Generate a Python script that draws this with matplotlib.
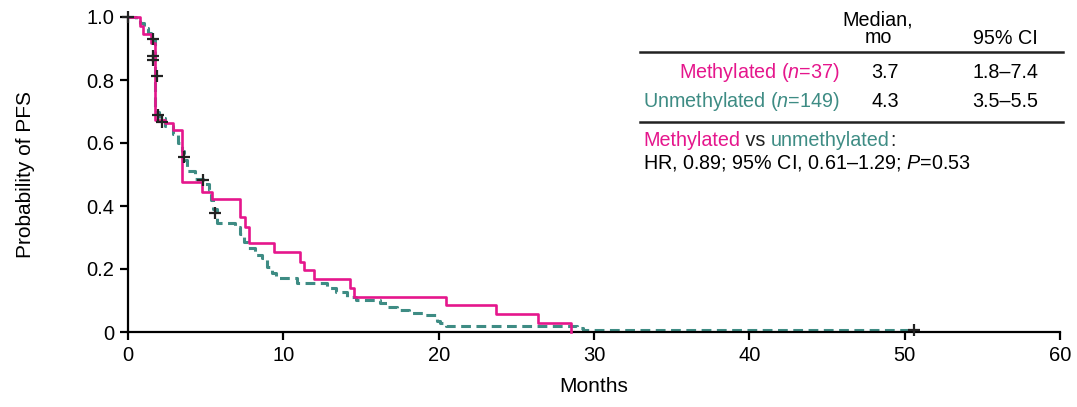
import matplotlib
matplotlib.use("Agg")
import matplotlib.pyplot as plt

# =====================================================
# DATA
# =====================================================

meth_t = [0, 0.77, 0.99, 1.45, 1.74, 2.4, 2.92, 3.46, 4.74, 5.39, 7.21, 7.5, 7.8,
          9.4, 11.08, 11.33, 11.98, 14.3, 14.55, 20.45, 23.7, 26.4, 28.5]
meth_s = [1.0, 0.973, 0.946, 0.919, 0.673, 0.662, 0.641, 0.477, 0.445, 0.421, 0.366,
          0.334, 0.282, 0.255, 0.223, 0.197, 0.167, 0.139, 0.112, 0.085, 0.057, 0.03, 0.0]

unmeth_t = [0, 0.5, 0.8, 1.0, 1.3, 1.5, 1.72, 2.0, 2.4, 2.9,
            3.2, 3.45, 3.6, 3.78, 4.3, 4.85, 5.2, 5.35, 5.5, 5.7,
            6.9, 7.2, 7.45, 7.75, 8.2, 8.6, 8.95, 9.25, 9.5, 10.9,
            12.8, 13.4, 14.1, 14.7, 16.2, 16.65, 17.3, 18.1, 19.05, 19.9,
            20.1, 20.5, 28.9, 29.3, 50.6]
unmeth_s = [1.0, 0.99, 0.98, 0.965, 0.95, 0.93, 0.70, 0.68, 0.655, 0.63,
            0.60, 0.575, 0.545, 0.51, 0.487, 0.47, 0.45, 0.42, 0.39, 0.345,
            0.334, 0.31, 0.287, 0.266, 0.244, 0.234, 0.207, 0.186, 0.17, 0.154,
            0.139, 0.128, 0.112, 0.102, 0.093, 0.08, 0.07, 0.059, 0.054, 0.035,
            0.028, 0.02, 0.013, 0.0067, 0.0067]

censor_t = [0, 1.6, 1.63, 1.63, 1.85, 1.95, 2.17, 3.6, 4.85, 5.6, 50.6]
censor_s = [1.0, 0.93, 0.876, 0.862, 0.812, 0.688, 0.667, 0.557, 0.483, 0.379, 0.0067]

groups = ["Methylated", "Unmethylated"]
group_n = [37, 149]
medians = ["3.7", "4.3"]
cis = ["1.8–7.4", "3.5–5.5"]
hr_text = "HR, 0.89; 95% CI, 0.61–1.29; $P$=0.53"

x_ticks = [0, 10, 20, 30, 40, 50, 60]
y_ticks = [0, 0.2, 0.4, 0.6, 0.8, 1.0]
y_ticklabels = ["0", "0.2", "0.4", "0.6", "0.8", "1.0"]

PINK = "#E5168C"
TEAL = "#3E8C84"

# =====================================================
# STYLE
# =====================================================

plt.rcParams["font.family"] = ["Liberation Sans", "DejaVu Sans"]
plt.rcParams["mathtext.fontset"] = "custom"
plt.rcParams["mathtext.rm"] = "Liberation Sans"
plt.rcParams["mathtext.it"] = "Liberation Sans:italic"
FS = 14.2          # table text
FS_TICK = 14.5
FS_LABEL = 15

W, H = 1077, 407
fig = plt.figure(figsize=(W / 100, H / 100), dpi=100)
ax = fig.add_axes([128 / W, 1 - 332 / H, (1060 - 128) / W, (332 - 17) / H])

# =====================================================
# CURVES
# =====================================================

ax.step(unmeth_t, unmeth_s, where="post", color=TEAL, lw=2.2,
        dashes=(3.2, 1.8), clip_on=False, zorder=2)
ax.step(meth_t, meth_s, where="post", color=PINK, lw=1.9,
        clip_on=False, zorder=3)
ax.plot(censor_t, censor_s, ls="none", marker="+", ms=9, mew=1.6,
        color="#222222", clip_on=False, zorder=4)

ax.set_xlim(0, 60)
ax.set_ylim(0, 1.0)
ax.set_xticks(x_ticks)
ax.set_yticks(y_ticks)
ax.set_yticklabels(y_ticklabels)
ax.tick_params(labelsize=FS_TICK, width=1.6, length=6, direction="out", pad=4)
for side in ["top", "right"]:
    ax.spines[side].set_visible(False)
for side in ["left", "bottom"]:
    ax.spines[side].set_linewidth(1.6)

ax.set_xlabel("Months", fontsize=FS_LABEL, labelpad=9)
ax.set_ylabel("Probability of PFS", fontsize=FS_LABEL, labelpad=37)

# =====================================================
# TABLE / ANNOTATION
# =====================================================

def fx(px):
    return px / W

def fy(py):
    return 1 - py / H

fig.text(fx(878), fy(29), "Median,\nmo", ha="center", va="center",
         fontsize=FS, linespacing=0.92)
fig.text(fx(1005), fy(38), "95% CI", ha="center", va="center", fontsize=FS)

fig.add_artist(plt.Line2D([fx(640), fx(1063)], [fy(51.7), fy(51.7)],
                          color="#222222", lw=1.8))
fig.add_artist(plt.Line2D([fx(640), fx(1063)], [fy(121.7), fy(121.7)],
                          color="#222222", lw=1.8))

row_y = [72.5, 101.5]
colors = [PINK, TEAL]
for i in range(len(groups)):
    fig.text(fx(840), fy(row_y[i]), f"{groups[i]} ($n$={group_n[i]})",
             ha="right", va="center", fontsize=FS, color=colors[i])
    fig.text(fx(885), fy(row_y[i]), medians[i], ha="center", va="center",
             fontsize=FS)
    fig.text(fx(1005), fy(row_y[i]), cis[i], ha="center", va="center",
             fontsize=FS)

# multi-coloured line
renderer = fig.canvas.get_renderer()
x0 = fx(643)
pieces = [("Methylated", PINK), (" vs ", "#222222"),
          ("unmethylated", TEAL), (":", "#222222")]
for txt, col in pieces:
    t = fig.text(x0, fy(141), txt, ha="left", va="center", fontsize=FS,
                 color=col)
    bb = t.get_window_extent(renderer=renderer)
    x0 = bb.x1 / fig.bbox.width

fig.text(fx(643), fy(163), hr_text, ha="left", va="center", fontsize=FS)

plt.savefig("out.png", dpi=100)
